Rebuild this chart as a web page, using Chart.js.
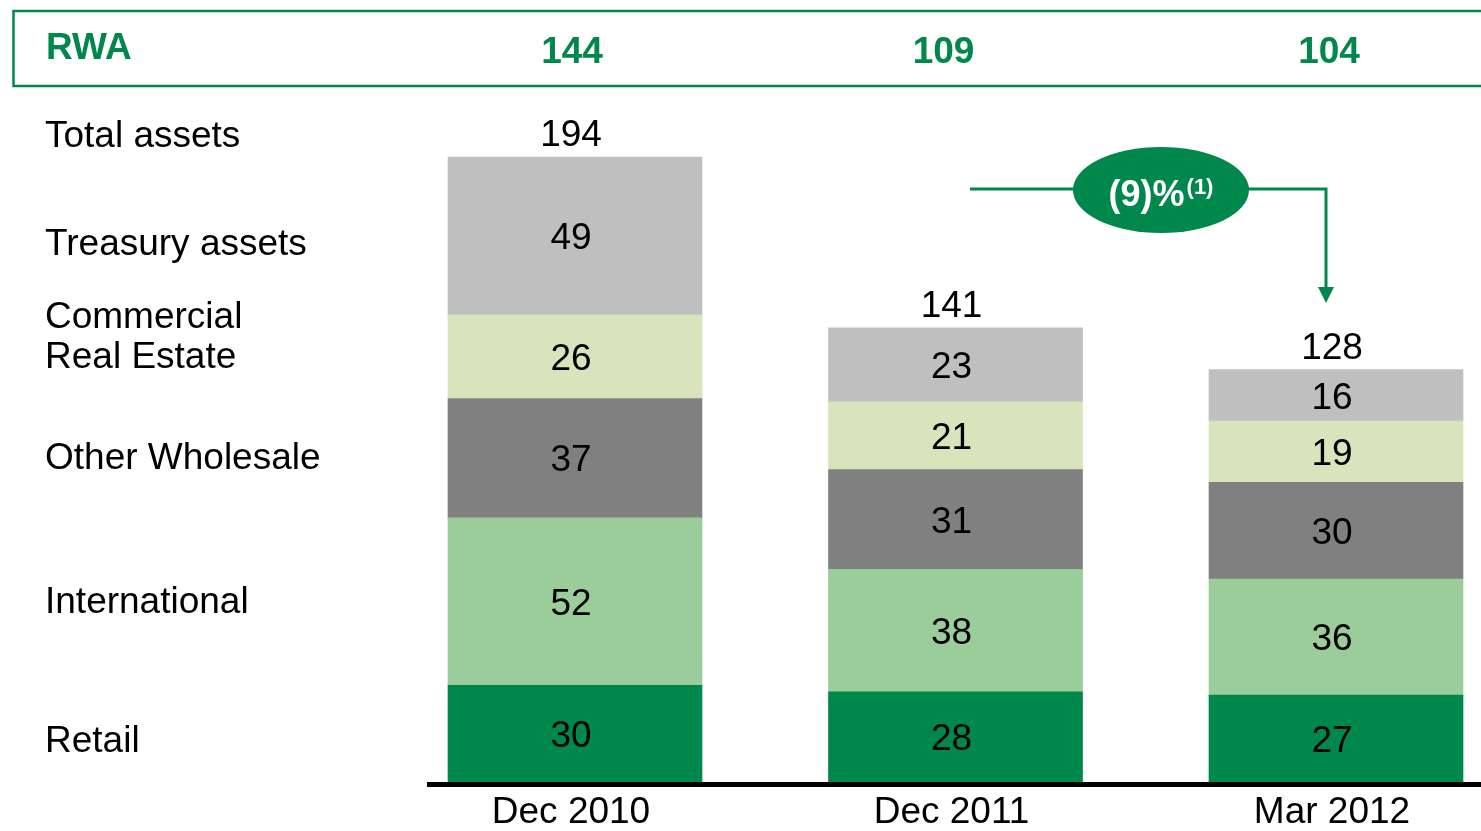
<!DOCTYPE html>
<html>
<head>
<meta charset="utf-8">
<title>RWA and total assets</title>
<script src="https://cdn.jsdelivr.net/npm/chart.js@4"></script>
<style>
  html, body { margin: 0; padding: 0; background: #fff; overflow: hidden; }
  #wrap { width: 1481px; height: 831px; }
</style>
</head>
<body>
<div id="wrap"><canvas id="rwaChart"></canvas></div>
<script>
// Data
const categories = ['Dec 2010', 'Dec 2011', 'Mar 2012'];
const rwa = [144, 109, 104];
const retail = [30, 28, 27];
const international = [52, 38, 36];
const otherWholesale = [37, 31, 30];
const commercialRealEstate = [26, 21, 19];
const treasuryAssets = [49, 23, 16];
const changeText = '(9)%';
const changeNote = '(1)';

const totals = categories.map((c, i) =>
    retail[i] + international[i] + otherWholesale[i] + commercialRealEstate[i] + treasuryAssets[i]);

const GREEN = '#00874b';
const FONT = '"Liberation Sans", Arial, Helvetica, sans-serif';

// Labels, header box, arrow etc.
const decorations = {
    id: 'decorations',
    afterDatasetsDraw(chart) {
        const ctx = chart.ctx;
        const area = chart.chartArea;
        const W = chart.width;
        ctx.save();

        // value labels inside segments
        ctx.fillStyle = '#000';
        ctx.font = '37px ' + FONT;
        ctx.textAlign = 'center';
        ctx.textBaseline = 'middle';
        chart.data.datasets.forEach((ds, di) => {
            chart.getDatasetMeta(di).data.forEach((bar, j) => {
                const p = bar.getProps(['x', 'y', 'base'], true);
                ctx.fillText(ds.data[j], p.x - 4, (p.y + p.base) / 2 + 3);
            });
        });

        // totals above bars
        const topMeta = chart.getDatasetMeta(chart.data.datasets.length - 1);
        topMeta.data.forEach((bar, j) => {
            ctx.fillText(totals[j], bar.x - 4, bar.y - 21);
        });

        // baseline
        ctx.strokeStyle = '#000';
        ctx.lineWidth = 5;
        ctx.beginPath();
        ctx.moveTo(427, area.bottom + 2.5);
        ctx.lineTo(W, area.bottom + 2.5);
        ctx.stroke();

        // left-hand row labels
        ctx.textAlign = 'left';
        const rows = [
            ['Total assets', 137],
            ['Treasury assets', 245],
            ['Commercial', 318],
            ['Real Estate', 358],
            ['Other Wholesale', 459],
            ['International', 603],
            ['Retail', 742]
        ];
        rows.forEach(r => ctx.fillText(r[0], 45, r[1]));

        // RWA header box
        ctx.strokeStyle = GREEN;
        ctx.lineWidth = 2.5;
        ctx.beginPath();
        ctx.moveTo(W + 5, 11);
        ctx.lineTo(13.5, 11);
        ctx.lineTo(13.5, 86);
        ctx.lineTo(W + 5, 86);
        ctx.stroke();

        ctx.fillStyle = GREEN;
        ctx.font = 'bold 37px ' + FONT;
        ctx.fillText('RWA', 46, 49);
        ctx.textAlign = 'center';
        const nudge = [-3, -12, -7];
        topMeta.data.forEach((bar, j) => {
            ctx.fillText(rwa[j], bar.x + nudge[j], 53);
        });

        // change bubble with arrow
        const cx = 1161, cy = 190;
        ctx.strokeStyle = GREEN;
        ctx.lineWidth = 3;
        ctx.beginPath();
        ctx.moveTo(970, 189);
        ctx.lineTo(1100, 189);
        ctx.moveTo(1220, 189);
        ctx.lineTo(1326, 189);
        ctx.lineTo(1326, 290);
        ctx.stroke();
        ctx.beginPath();
        ctx.moveTo(1318, 287);
        ctx.lineTo(1334, 287);
        ctx.lineTo(1326, 303);
        ctx.closePath();
        ctx.fill();

        ctx.beginPath();
        ctx.ellipse(cx, cy, 88, 43, 0, 0, Math.PI * 2);
        ctx.fill();

        ctx.fillStyle = '#fff';
        ctx.textBaseline = 'alphabetic';
        ctx.textAlign = 'left';
        ctx.font = 'bold 36px ' + FONT;
        const w1 = ctx.measureText(changeText).width;
        ctx.font = 'bold 22px ' + FONT;
        const w2 = ctx.measureText(changeNote).width;
        const x0 = cx - (w1 + w2 + 2) / 2;
        ctx.font = 'bold 36px ' + FONT;
        ctx.fillText(changeText, x0, 206);
        ctx.font = 'bold 22px ' + FONT;
        ctx.fillText(changeNote, x0 + w1 + 2, 194);

        ctx.restore();
    }
};

const ctx = document.getElementById('rwaChart').getContext('2d');
const rwaChart = new Chart(ctx, {
    type: 'bar',
    data: {
        labels: categories,
        datasets: [
            { label: 'Retail', data: retail, backgroundColor: '#00874b' },
            { label: 'International', data: international, backgroundColor: '#9bcd9b' },
            { label: 'Other Wholesale', data: otherWholesale, backgroundColor: '#808080' },
            { label: 'Commercial Real Estate', data: commercialRealEstate, backgroundColor: '#d8e4bc' },
            { label: 'Treasury assets', data: treasuryAssets, backgroundColor: '#bfbfbf' }
        ]
    },
    options: {
        responsive: true,
        maintainAspectRatio: false,
        animation: false,
        layout: { padding: { left: 575, right: 145, top: 157, bottom: 0 } },
        datasets: { bar: { barThickness: 254, clip: false, borderWidth: 0 } },
        plugins: { legend: { display: false }, tooltip: { enabled: false } },
        scales: {
            x: {
                stacked: true,
                offset: false,
                grid: { display: false, drawTicks: false },
                border: { display: false },
                ticks: { color: '#000', font: { family: FONT, size: 37 }, padding: 9, labelOffset: -4, maxRotation: 0, autoSkip: false },
                afterFit: s => { s.height = 49; }
            },
            y: {
                stacked: true,
                display: false,
                min: 0,
                max: Math.max(...totals)
            }
        }
    },
    plugins: [decorations]
});
</script>
</body>
</html>
